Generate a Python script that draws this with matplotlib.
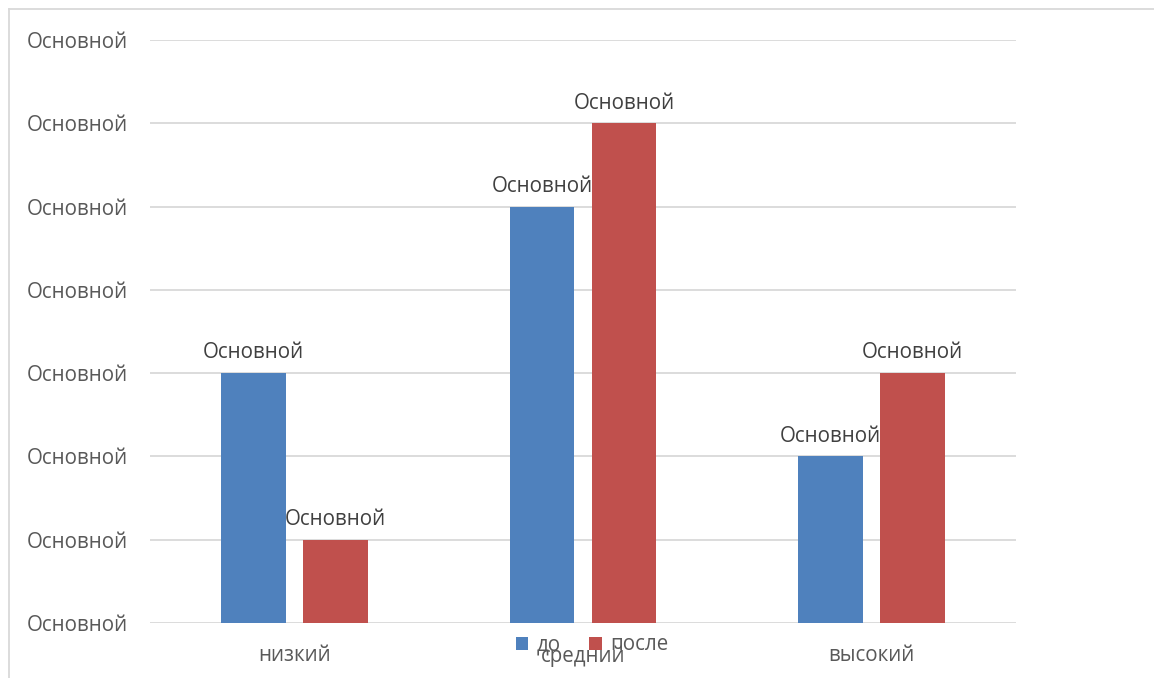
import numpy as np
import matplotlib.pyplot as plt
from matplotlib.lines import Line2D

plt.rcParams['font.family'] = ['Open Sans', 'DejaVu Sans']

# данные
categories = ["низкий", "средний", "высокий"]
series_names = ["до", "после"]
vals_before = [3, 5, 2]
vals_after = [1, 6, 3]
y_ticks = [0, 1, 2, 3, 4, 5, 6, 7]
tick_text = "Основной"

blue = "#4F81BD"
red = "#C0504D"
text_col = "#595959"
grid_col = "#D9D9D9"
fs = 14.8

fig = plt.figure(figsize=(11.54, 6.78), dpi=100)
ax = fig.add_axes([150/1154, 1 - 623/678, (1016 - 150)/1154, (623 - 40)/678])

x = np.arange(len(categories))
w = 0.225
gap = 0.059
off = (w + gap) / 2

b1 = ax.bar(x - off, vals_before, w, color=blue, label=series_names[0], zorder=3)
b2 = ax.bar(x + off, vals_after, w, color=red, label=series_names[1], zorder=3)

for bars in (b1, b2):
    for r in bars:
        ax.annotate(tick_text, (r.get_x() + r.get_width() / 2, r.get_height()),
                    xytext=(0, 7), textcoords="offset points",
                    ha="center", va="bottom", fontsize=fs, color="#404040", zorder=4)

ax.set_xlim(-0.5, len(categories) - 0.5)
ax.set_ylim(0, 7)
ax.set_yticks(y_ticks)
ax.set_yticklabels([tick_text] * len(y_ticks))
ax.set_xticks(x)
ax.set_xticklabels(categories)
ax.tick_params(axis="y", length=0, pad=16, labelsize=fs, labelcolor=text_col)
ax.tick_params(axis="x", length=0, pad=16, labelsize=fs, labelcolor=text_col)
ax.yaxis.grid(True, color=grid_col, lw=1.3, zorder=0)
for s in ax.spines.values():
    s.set_visible(False)

ax.legend(loc="center", bbox_to_anchor=(592/1154, 1 - 645/678),
          bbox_transform=fig.transFigure, ncol=2, frameon=False,
          fontsize=fs, labelcolor=text_col, handlelength=0.6, handleheight=0.6,
          handletextpad=0.4, columnspacing=1.4)

# рамка диаграммы
fig.add_artist(Line2D([9/1154, 1], [1 - 9/678, 1 - 9/678], color=grid_col, lw=1.3))
fig.add_artist(Line2D([9/1154, 9/1154], [0, 1 - 9/678], color=grid_col, lw=1.3))

fig.savefig("out.png", dpi=100)
